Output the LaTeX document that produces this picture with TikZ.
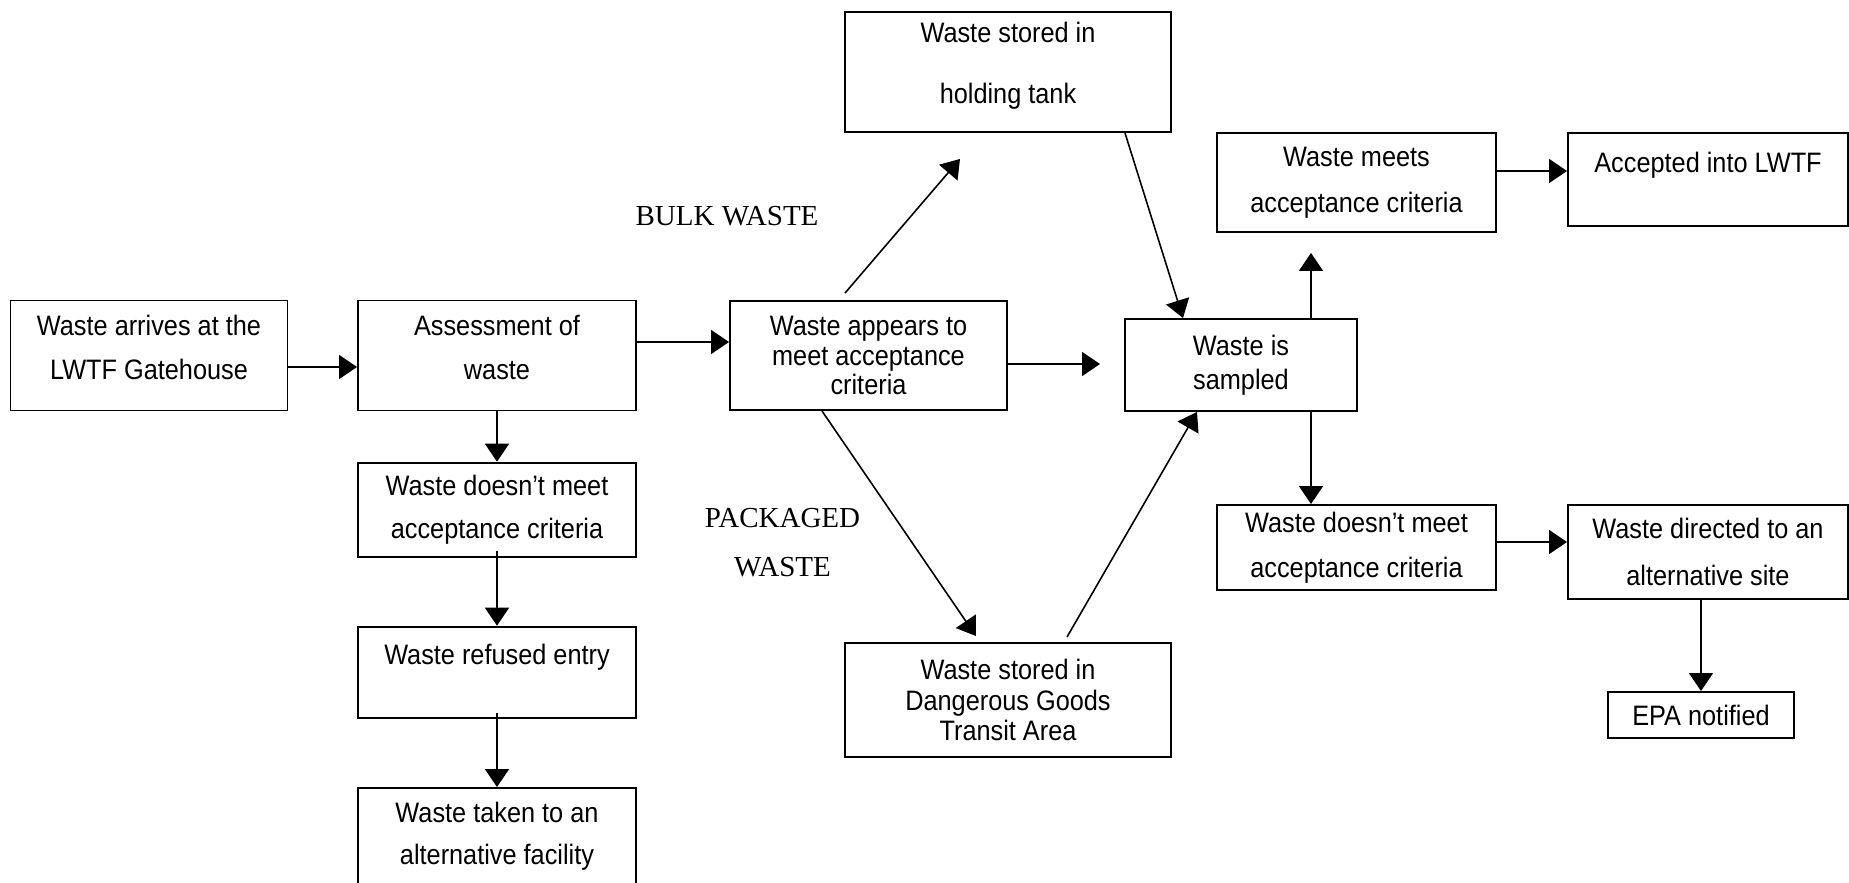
\documentclass[tikz,border=0pt]{standalone}
\usepackage{fontspec}
\newfontfamily\boxfont{Liberation Sans}[FakeStretch=0.9]
\newfontfamily\labelfont{Liberation Serif}
\usetikzlibrary{arrows.meta}

\tikzset{
    box/.style={draw, line width=0.55pt, inner sep=0pt, align=center,
        minimum width=2.78cm, font=\boxfont\fontsize{8}{#1}\selectfont},
    box/.default=12.4pt,
    tag/.style={font=\labelfont\fontsize{8.25}{13.9}\selectfont, align=center, inner sep=0pt}
}

\begin{document}
\begin{tikzpicture}[>={Triangle[length=0.18cm,width=0.24cm]}, line width=0.45pt]
    \useasboundingbox (0,0) rectangle (18.49,8.82);

    % Các ô bên trái
    \node[box, minimum width=2.77cm, minimum height=1.10cm, text depth=0.16cm] (arrive) at (1.49,5.265) {Waste arrives at the\\LWTF Gatehouse};
    \node[box, minimum height=1.10cm, text depth=0.16cm] (assess) at (4.97,5.265) {Assessment of\\waste};
    \node[box=12.3pt, minimum height=0.94cm] (reject) at (4.97,3.723) {Waste doesn’t meet\\acceptance criteria};
    \node[box, minimum height=0.913cm, text height=0.22cm, text depth=0.38cm] (refused) at (4.97,2.097) {Waste refused entry};
    \node[box=12pt, minimum height=0.96cm] (taken) at (4.97,0.46) {Waste taken to an\\alternative facility};

    % Các ô ở giữa
    \node[box=8.4pt, minimum width=2.77cm, minimum height=1.09cm] (appear) at (8.685,5.265) {Waste appears to\\meet acceptance\\criteria};
    \node[box=17.4pt, minimum width=3.26cm, minimum height=1.20cm, text depth=0.18cm] (tank) at (10.08,8.10) {Waste stored in\\holding tank};
    \node[box=8.7pt, minimum width=3.26cm, minimum height=1.14cm] (dgta) at (10.08,1.82) {Waste stored in\\Dangerous Goods\\Transit Area};
    \node[box=9.7pt, minimum width=2.32cm, minimum height=0.92cm] (sample) at (12.41,5.17) {Waste is\\sampled};

    % Các ô bên phải
    \node[box=13.1pt, minimum width=2.79cm, minimum height=0.99cm] (meets) at (13.565,6.995) {Waste meets\\acceptance criteria};
    \node[box, minimum width=2.80cm, minimum height=0.93cm, text height=0.22cm, text depth=0.37cm] (accepted) at (17.08,7.025) {Accepted into LWTF};
    \node[box=12.7pt, minimum width=2.79cm, minimum height=0.85cm] (fails) at (13.565,3.345) {Waste doesn’t meet\\acceptance criteria};
    \node[box=13.4pt, minimum width=2.80cm, minimum height=0.94cm] (directed) at (17.08,3.30) {Waste directed to an\\alternative site};
    \node[box, minimum width=1.86cm, minimum height=0.46cm] (epa) at (17.01,1.67) {EPA notified};

    % Nhãn
    \node[tag] (bulk) at (7.27,6.66) {BULK WASTE};
    \node[tag] (packaged) at (7.825,3.395) {PACKAGED\\WASTE};

    % Mũi tên
    \draw[->] ([yshift=-1.15mm]arrive.east) -- ([yshift=-1.15mm]assess.west);
    \draw[->] ([yshift=1.35mm]assess.east) -- ([yshift=1.35mm]appear.west);
    \draw[->] (assess.south) -- (reject.north);
    \draw[->] ([yshift=0.7mm]reject.south) -- (refused.north);
    \draw[->] ([yshift=0.6mm]refused.south) -- (taken.north);

    \draw[->] ([xshift=-2.35mm,yshift=0.7mm]appear.north) -- ([xshift=-4.8mm,yshift=-2.6mm]tank.south);
    \draw[->] ([xshift=11.7mm]tank.south) -- ([xshift=-5.8mm]sample.north);
    \draw[->] ([yshift=-0.85mm]appear.east) -- ([xshift=-2.4mm,yshift=0.1mm]sample.west);
    \draw[->] ([xshift=-4.65mm]appear.south) -- ([xshift=-3.2mm,yshift=0.6mm]dgta.north);
    \draw[->] ([xshift=5.9mm,yshift=0.5mm]dgta.north) -- ([xshift=-4.4mm]sample.south);

    \draw[->] ([xshift=7mm]sample.north) -- ([xshift=-4.55mm,yshift=-2mm]meets.south);
    \draw[->] ([xshift=7mm]sample.south) -- ([xshift=-4.55mm]fails.north);
    \draw[->] ([yshift=1.15mm]meets.east) -- ([yshift=0.85mm]accepted.west);
    \draw[->] ([yshift=0.55mm]fails.east) -- ([yshift=1mm]directed.west);
    \draw[->] (epa.north |- directed.south) -- (epa.north);

\end{tikzpicture}
\end{document}
